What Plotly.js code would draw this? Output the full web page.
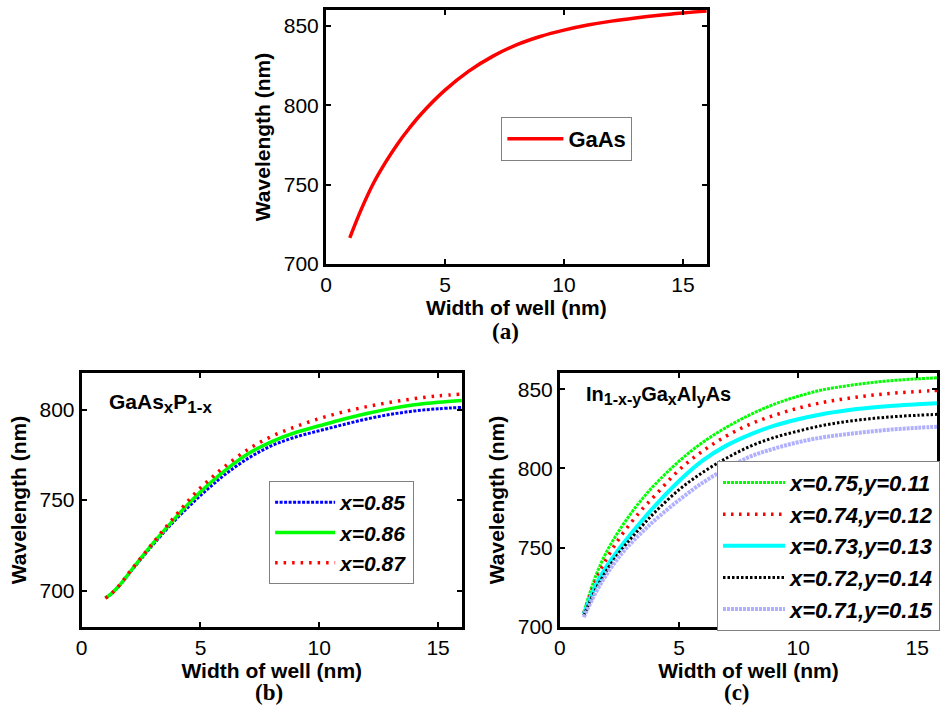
<!DOCTYPE html>
<html>
<head>
<meta charset="utf-8">
<script src="https://cdn.plot.ly/plotly-3.0.1.min.js"></script>
<style>html,body{margin:0;padding:0;background:#fff;}#chart{width:940px;height:710px;}</style>
</head>
<body>
<div id="chart"></div>
<script>
// ---- Panel (a): GaAs ----
const widthA = [1, 1.5, 2, 2.5, 3, 3.5, 4, 5, 6, 7, 8, 9, 10, 11, 12, 13, 14, 15, 16];
const gaas = [716.5, 735, 751, 764, 775.5, 785.5, 794.5, 809.5, 821.5, 830.8, 838, 843.3, 847.3, 850.5, 853, 855, 856.7, 858.1, 859.3];

// ---- Panel (b): GaAs_x P_1-x ----
const widthB = [1, 1.25, 1.5, 1.75, 2, 2.5, 3, 3.5, 4, 4.5, 5, 5.5, 6, 7, 8, 9, 10, 11, 12, 13, 14, 15, 16];
const x085 = [695.8, 698.3, 701.5, 705.3, 709.5, 717.5, 725.3, 732.8, 739.8, 746.3, 752.5, 758.3, 763.8, 773, 780, 784.8, 788.3, 791.6, 794.8, 797.3, 799.2, 800.4, 801.2];
const x086 = [695.8, 698.3, 701.5, 705.4, 709.7, 718, 726, 733.6, 741, 748, 754.5, 760.5, 766, 775.5, 782.3, 787.3, 791, 794.6, 797.8, 800.5, 802.6, 804, 805];
const x087 = [695.8, 698.3, 701.6, 705.6, 710, 718.2, 726.3, 734.4, 742.2, 749.8, 756.8, 762.7, 768.3, 778, 785.2, 790.5, 795, 798.6, 801.6, 804, 806, 807.5, 808.5];

// ---- Panel (c): In_1-x-y Ga_x Al_y As ----
const widthC = [1, 1.5, 2, 2.5, 3, 3.5, 4, 5, 6, 7, 8, 9, 10, 11, 12, 13, 14, 15, 16];
const c075_011 = [709, 732, 748.5, 761, 772, 781.5, 790, 804.5, 816.5, 826, 834, 840.5, 845.5, 849.5, 852, 854, 855.5, 856.5, 857.3];
const c074_012 = [708.5, 729, 744, 756, 766, 775, 783, 799, 811, 820.5, 828, 833.5, 838, 841.5, 844, 846, 847.5, 848.5, 849.3];
const c073_013 = [708, 726, 739, 749.5, 759, 768, 776.5, 792, 805, 814.5, 821.5, 827, 831, 834.2, 836.5, 838.2, 839.5, 840.5, 841.3];
const c072_014 = [707, 723.5, 736.5, 747, 756, 764.5, 772.5, 786.5, 797.5, 806.5, 814, 819.5, 823.5, 827, 829.5, 831.3, 832.6, 833.5, 834.2];
const c071_015 = [706, 721.5, 734, 744.5, 753, 760.5, 767.5, 780, 791, 800, 807.5, 812.5, 816.5, 819.5, 821.5, 823.2, 824.6, 825.6, 826.4];

const namesB = ['x=0.85', 'x=0.86', 'x=0.87'];
const namesC = ['x=0.75,y=0.11', 'x=0.74,y=0.12', 'x=0.73,y=0.13', 'x=0.72,y=0.14', 'x=0.71,y=0.15'];

const FONT = 'Liberation Sans, Arial, sans-serif';
const SERIF = 'Liberation Serif, Times New Roman, serif';

const traces = [
  {x: widthA, y: gaas, name: 'GaAs', mode: 'lines', line: {color: '#ff0000', width: 3.5, shape: 'spline'}, xaxis: 'x', yaxis: 'y', legend: 'legend'},

  {x: widthB, y: x085, name: namesB[0], mode: 'lines', line: {color: '#0000ff', width: 3, dash: '3px,1.5px', shape: 'spline'}, xaxis: 'x2', yaxis: 'y2', legend: 'legend2'},
  {x: widthB, y: x086, name: namesB[1], mode: 'lines', line: {color: '#00ff00', width: 3.5, shape: 'spline'}, xaxis: 'x2', yaxis: 'y2', legend: 'legend2'},
  {x: widthB, y: x087, name: namesB[2], mode: 'lines', line: {color: '#ff0000', width: 3.5, dash: '2.5px,6px', shape: 'spline'}, xaxis: 'x2', yaxis: 'y2', legend: 'legend2'},

  {x: widthC, y: c075_011, name: namesC[0], mode: 'lines', line: {color: '#00ff00', width: 3, dash: '3px,1px', shape: 'spline'}, xaxis: 'x3', yaxis: 'y3', legend: 'legend3'},
  {x: widthC, y: c074_012, name: namesC[1], mode: 'lines', line: {color: '#ff0000', width: 3.5, dash: '2.5px,5.5px', shape: 'spline'}, xaxis: 'x3', yaxis: 'y3', legend: 'legend3'},
  {x: widthC, y: c073_013, name: namesC[2], mode: 'lines', line: {color: '#00ffff', width: 4, shape: 'spline'}, xaxis: 'x3', yaxis: 'y3', legend: 'legend3'},
  {x: widthC, y: c072_014, name: namesC[3], mode: 'lines', line: {color: '#000000', width: 3, dash: '2.5px,2px', shape: 'spline'}, xaxis: 'x3', yaxis: 'y3', legend: 'legend3'},
  {x: widthC, y: c071_015, name: namesC[4], mode: 'lines', line: {color: '#b0b0ff', width: 4, dash: '3px,1px', shape: 'spline'}, xaxis: 'x3', yaxis: 'y3', legend: 'legend3'}
];

function xax(domain, range, anchor) {
  return {
    domain: domain, range: range, anchor: anchor,
    tickvals: [0, 5, 10, 15], ticks: 'inside', ticklen: 5, tickwidth: 2, tickcolor: '#000',
    showline: true, linecolor: '#000', linewidth: 3, mirror: 'ticks', showgrid: false, zeroline: false,
    tickfont: {family: FONT, size: 21, color: '#000'},
    title: {text: 'Width of well (nm)', font: {family: FONT, size: 21, color: '#000', weight: 'bold'}, standoff: 6}
  };
}
function yax(domain, range, anchor, tv) {
  return {
    domain: domain, range: range, anchor: anchor,
    tickvals: tv, ticks: 'inside', ticklen: 5, tickwidth: 2, tickcolor: '#000',
    showline: true, linecolor: '#000', linewidth: 3, mirror: 'ticks', showgrid: false, zeroline: false,
    tickfont: {family: FONT, size: 21, color: '#000'},
    title: {text: 'Wavelength (nm)', font: {family: FONT, size: 21, color: '#000', weight: 'bold'}, standoff: 8}
  };
}

const legendFont = {family: FONT, size: 21, color: '#000', weight: 'bold', style: 'italic'};
const legendFontC = {family: FONT, size: 22, color: '#000', weight: 'bold', style: 'italic'};

const layout = {
  width: 940, height: 710,
  margin: {l: 0, r: 0, t: 0, b: 0},
  paper_bgcolor: '#fff', plot_bgcolor: '#fff',
  showlegend: true,
  xaxis: xax([0.3479, 0.7543], [0, 16], 'y'),
  yaxis: yax([0.6282, 0.9859], [700, 860], 'x', [700, 750, 800, 850]),
  xaxis2: xax([0.0872, 0.4929], [0, 16], 'y2'),
  yaxis2: yax([0.1173, 0.4742], [680, 820], 'x2', [700, 750, 800]),
  xaxis3: xax([0.5976, 1], [0, 15.83], 'y3'),
  yaxis3: yax([0.1173, 0.4742], [700, 860], 'x3', [700, 750, 800, 850]),
  legend: {x: 0.5351, y: (710 - 139) / 710, xanchor: 'left', yanchor: 'middle', bgcolor: '#fff', bordercolor: '#808080', borderwidth: 1,
           font: {family: FONT, size: 22, color: '#000', weight: 'bold'}, itemwidth: 56},
  legend2: {x: 0.2872, y: (710 - 532.5) / 710, xanchor: 'left', yanchor: 'middle', bgcolor: '#fff', bordercolor: '#808080', borderwidth: 1,
            font: legendFont, itemwidth: 60},
  legend3: {x: 0.7652, y: (710 - 545.8) / 710, xanchor: 'left', yanchor: 'middle', bgcolor: '#fff', bordercolor: '#808080', borderwidth: 1,
            font: legendFontC, itemwidth: 62},
  annotations: [
    {xref: 'paper', yref: 'paper', x: 507 / 940, y: (710 - 331) / 710, xanchor: 'center', yanchor: 'middle', text: '(a)', showarrow: false,
     font: {family: SERIF, size: 23, color: '#000', weight: 'bold'}},
    {xref: 'paper', yref: 'paper', x: 270 / 940, y: (710 - 692) / 710, xanchor: 'center', yanchor: 'middle', text: '(b)', showarrow: false,
     font: {family: SERIF, size: 23, color: '#000', weight: 'bold'}},
    {xref: 'paper', yref: 'paper', x: 739 / 940, y: (710 - 692) / 710, xanchor: 'center', yanchor: 'middle', text: '(c)', showarrow: false,
     font: {family: SERIF, size: 23, color: '#000', weight: 'bold'}},
    {xref: 'x2', yref: 'y2', x: 1.05, y: 812, xanchor: 'left', yanchor: 'top', showarrow: false,
     text: 'GaAs<sub><span style="font-size:17px">x</span></sub>P<sub><span style="font-size:17px">1-x</span></sub>',
     font: {family: FONT, size: 21, color: '#000', weight: 'bold'}},
    {xref: 'x3', yref: 'y3', x: 1.0, y: 855, xanchor: 'left', yanchor: 'top', showarrow: false,
     text: 'In<sub><span style="font-size:16px">1-x-y</span></sub>Ga<sub><span style="font-size:16px">x</span></sub>Al<sub><span style="font-size:16px">y</span></sub>As',
     font: {family: FONT, size: 20, color: '#000', weight: 'bold'}}
  ]
};

Plotly.newPlot('chart', traces, layout, {displayModeBar: false, staticPlot: true});
</script>
</body>
</html>
